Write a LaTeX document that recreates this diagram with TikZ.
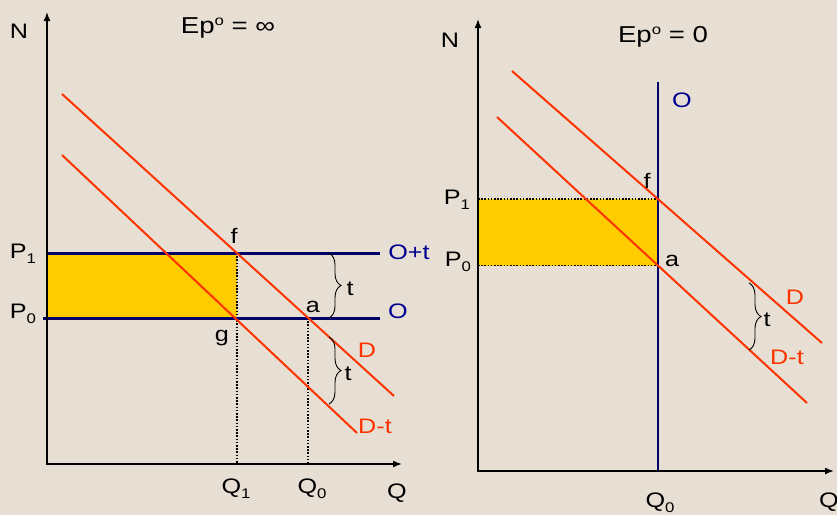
\documentclass[tikz,border=0pt]{standalone}
\usepackage{fontspec}
\setmainfont{Liberation Sans}[FakeStretch=1.2]
\usepackage{xcolor}
\usetikzlibrary{decorations.pathreplacing}
\usetikzlibrary{arrows.meta}
\definecolor{paper}{HTML}{E7DFD3}
\definecolor{gold}{HTML}{FFCC00}
\definecolor{navyline}{HTML}{000066}
\definecolor{navytext}{HTML}{000090}
\definecolor{redline}{HTML}{FF3300}
\newcommand{\lsub}[1]{\raisebox{-5pt}{\fontsize{14}{14}\selectfont #1}}
\newcommand{\hsup}[1]{\raisebox{8pt}{\fontsize{14}{14}\selectfont #1}}

\begin{document}
\begin{tikzpicture}[x=1pt,y=-1pt,
  lab/.style={anchor=base,inner sep=0pt,font=\fontsize{21}{24}\selectfont},
  title/.style={anchor=base,inner sep=0pt,font=\fontsize{23}{26}\selectfont},
  axis/.style={line width=1.6pt,{Latex[length=9pt,width=7pt]}-{Latex[length=9pt,width=7pt]}},
  dem/.style={redline,line width=2pt},
  supply/.style={navyline,line width=3pt},
  guide/.style={line width=1.6pt,dash pattern=on 1.6pt off 1.6pt},
  tax/.style={decorate,decoration={brace,amplitude=12pt},line width=.9pt}]
  \useasboundingbox (0,0) rectangle (837,515);
  \fill[paper] (0,0) rectangle (837,515);

  % left panel, Ep = infinity
  \coordinate (o1) at (47,464);
  \coordinate (ytop1) at (47,12);
  \coordinate (xend1) at (402,464);
  \coordinate (p1a) at (47,253);
  \coordinate (p1b) at (380,253);
  \coordinate (p0a) at (43,318);
  \coordinate (p0b) at (380,318);
  \coordinate (dA1) at (62,94);
  \coordinate (dB1) at (394,396);
  \coordinate (tA1) at (62,155);
  \coordinate (tB1) at (357,433);
  \coordinate (f1) at (intersection of dA1--dB1 and p1a--p1b);
  \coordinate (a1) at (intersection of dA1--dB1 and p0a--p0b);
  \coordinate (g1) at (intersection of tA1--tB1 and p0a--p0b);

  \fill[gold] (p1a) rectangle (f1 |- p0a);
  \draw[guide] (f1) -- (f1 |- o1);
  \draw[guide] (a1) -- (a1 |- o1);
  \draw[supply] (p1a) -- (p1b);
  \draw[supply] (p0a) -- (p0b);
  \draw[dem] (dA1) -- (dB1);
  \draw[dem] (tA1) -- (tB1);
  \draw[axis] (ytop1) -- (o1) -- (xend1);

  \coordinate (b1t) at (329,253);
  \coordinate (b1b) at (329,318);
  \coordinate (b2t) at (329,337);
  \coordinate (b2b) at (329,404);
  \draw[tax] (b1t) -- (b1b);
  \draw[tax] (b2t) -- (b2b);

  \node[lab] (n1) at (19,38) {N};
  \node[title] (ep1) at (228,33) {Ep\hsup{o} = ∞};
  \node[lab] (p1l) at (23,258) {P\lsub{1}};
  \node[lab] (p0l) at (23,318) {P\lsub{0}};
  \node[lab] (fl1) at (234,243) {f};
  \node[lab] (gl1) at (222,341) {g};
  \node[lab] (al1) at (313,312) {a};
  \node[lab,text=navytext] (ot1) at (409,259) {O+t};
  \node[lab,text=navytext] (ol1) at (398,318) {O};
  \node[lab] (tl1) at (350,295) {t};
  \node[lab] (tl2) at (348,380) {t};
  \node[lab,text=redline] (dl1) at (367,357) {D};
  \node[lab,text=redline] (dtl1) at (375,433) {D-t};
  \node[lab] (q1l) at (236,493) {Q\lsub{1}};
  \node[lab] (q0l) at (312,493) {Q\lsub{0}};
  \node[lab] (ql1) at (397,498) {Q};

  % right panel, Ep = 0
  \coordinate (o2) at (478,471);
  \coordinate (ytop2) at (478,19);
  \coordinate (xend2) at (834,471);
  \coordinate (sA2) at (658,82);
  \coordinate (sB2) at (658,471);
  \coordinate (dA2) at (512,71);
  \coordinate (dB2) at (822,343);
  \coordinate (tA2) at (497,117);
  \coordinate (tB2) at (807,403);
  \coordinate (f2) at (intersection of dA2--dB2 and sA2--sB2);
  \coordinate (a2) at (intersection of tA2--tB2 and sA2--sB2);

  \fill[gold] (o2 |- f2) rectangle (a2);
  \draw[guide] (o2 |- f2) -- (f2);
  \draw[guide] (o2 |- a2) -- (a2);
  \draw[navyline,line width=1.6pt] (sA2) -- (sB2);
  \draw[dem] (dA2) -- (dB2);
  \draw[dem] (tA2) -- (tB2);
  \draw[axis] (ytop2) -- (o2) -- (xend2);

  \coordinate (b3t) at (749,283);
  \coordinate (b3b) at (749,350);
  \draw[tax] (b3t) -- (b3b);

  \node[lab] (n2) at (450,47) {N};
  \node[title] (ep2) at (663,42) {Ep\hsup{o} = 0};
  \node[lab,text=navytext] (ol2) at (682,107) {O};
  \node[lab] (fl2) at (647,188) {f};
  \node[lab] (al2) at (672,266) {a};
  \node[lab] (p1r) at (457,204) {P\lsub{1}};
  \node[lab] (p0r) at (458,266) {P\lsub{0}};
  \node[lab] (tl3) at (767,326) {t};
  \node[lab,text=redline] (dl2) at (795,304) {D};
  \node[lab,text=redline] (dtl2) at (787,364) {D-t};
  \node[lab] (q0r) at (660,507) {Q\lsub{0}};
  \node[lab] (ql2) at (829,507) {Q};
\end{tikzpicture}
\end{document}
